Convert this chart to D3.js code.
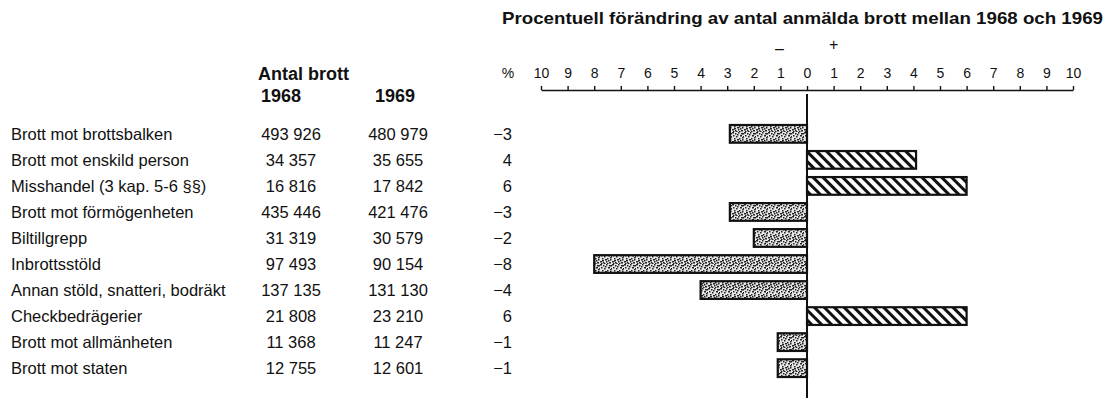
<!DOCTYPE html>
<html>
<head>
<meta charset="utf-8">
<script src="https://cdn.jsdelivr.net/npm/d3@7"></script>
<style>
  body { margin: 0; background: #fff; }
  text { font-family: "Liberation Sans", Arial, sans-serif; fill: #111; }
</style>
</head>
<body>
<div id="chart"></div>
<script>
// Crime categories and counts
var categories = [
    "Brott mot brottsbalken",
    "Brott mot enskild person",
    "Misshandel (3 kap. 5-6 §§)",
    "Brott mot förmögenheten",
    "Biltillgrepp",
    "Inbrottsstöld",
    "Annan stöld, snatteri, bodräkt",
    "Checkbedrägerier",
    "Brott mot allmänheten",
    "Brott mot staten"
];
var count1968 = ["493 926", "34 357", "16 816", "435 446", "31 319", "97 493", "137 135", "21 808", "11 368", "12 755"];
var count1969 = ["480 979", "35 655", "17 842", "421 476", "30 579", "90 154", "131 130", "23 210", "11 247", "12 601"];
// percent change as printed, and bar lengths as drawn
var pctLabels = [-3, 4, 6, -3, -2, -8, -4, 6, -1, -1];
var barValues = [-2.9, 4.1, 6, -2.9, -2, -8, -4, 6, -1.1, -1.1];
var tickValues = d3.range(-10, 11);

var width = 1110, height = 401;

var svg = d3.select("#chart")
    .append("svg")
    .attr("width", width)
    .attr("height", height);

// patterns for bars
var defs = svg.append("defs");
var hatch = defs.append("pattern")
    .attr("id", "hatch")
    .attr("patternUnits", "userSpaceOnUse")
    .attr("width", 7).attr("height", 7)
    .attr("patternTransform", "rotate(-45)");
hatch.append("rect").attr("width", 7).attr("height", 7).attr("fill", "#fff");
hatch.append("rect").attr("width", 3).attr("height", 7).attr("fill", "#111");

// stipple texture (fixed dot layout)
var stipple = defs.append("pattern")
    .attr("id", "stipple")
    .attr("patternUnits", "userSpaceOnUse")
    .attr("width", 12).attr("height", 12);
stipple.append("rect").attr("width", 12).attr("height", 12).attr("fill", "#e6e6e6");
var dots = [[0,0],[3,1],[6,0],[9,1],[1,3],[4,4],[8,3],[11,4],[2,6],[5,7],[7,6],[10,7],
            [0,9],[3,10],[6,9],[9,10],[1,11],[7,11],[11,1],[5,2],[10,5],[2,8],[8,8],[4,11]];
dots.forEach(function (d, i) {
    stipple.append("rect").attr("x", d[0]).attr("y", d[1])
        .attr("width", i % 3 == 0 ? 2 : 1.5).attr("height", 1.5).attr("fill", "#222");
});

// scales
var x = d3.scaleLinear().domain([-10, 10]).range([541, 1073]);
var y = d3.scaleBand().domain(categories).range([125, 377]).paddingInner(0.32);

// title
svg.append("text")
    .attr("x", 502).attr("y", 24)
    .attr("textLength", 601).attr("lengthAdjust", "spacingAndGlyphs")
    .style("font-family", "'Liberation Sans Narrow', 'Liberation Sans', Arial, sans-serif")
    .style("font-weight", "bold").style("font-size", "17px")
    .text("Procentuell förändring av antal anmälda brott mellan 1968 och 1969");

// minus / plus
svg.append("text").attr("x", x(-1) - 1).attr("y", 54).attr("text-anchor", "middle")
    .style("font-size", "16px").text("–");
svg.append("text").attr("x", x(1)).attr("y", 50).attr("text-anchor", "middle")
    .style("font-size", "16px").text("+");

// axis
var axis = svg.append("g")
    .attr("transform", "translate(0,90)")
    .call(d3.axisTop(x).tickValues(tickValues).tickSize(4).tickSizeOuter(0)
        .tickPadding(8)
        .tickFormat(function (d) { return Math.abs(d); }));
axis.select(".domain").attr("stroke", "#111").attr("stroke-width", 1.4);
axis.selectAll(".tick line").attr("stroke", "#111").attr("stroke-width", 1.4);
axis.selectAll(".tick text")
    .style("font-family", "'Liberation Sans', Arial, sans-serif")
    .style("font-size", "14px").attr("fill", "#111");

svg.append("text").attr("x", 508).attr("y", 78).attr("text-anchor", "middle")
    .style("font-size", "14px").text("%");

// column headers
svg.append("text").attr("x", 258).attr("y", 80)
    .style("font-weight", "bold").style("font-size", "18px").text("Antal brott");
svg.append("text").attr("x", 261).attr("y", 102)
    .style("font-weight", "bold").style("font-size", "18px").text("1968");
svg.append("text").attr("x", 375).attr("y", 102)
    .style("font-weight", "bold").style("font-size", "18px").text("1969");

// table rows
var rows = svg.selectAll(".row")
    .data(categories)
    .enter()
    .append("g")
    .attr("class", "row")
    .attr("transform", function (d) { return "translate(0," + (y(d) + y.bandwidth() / 2 + 6) + ")"; });

rows.append("text").attr("x", 11).style("font-size", "16.5px")
    .text(function (d) { return d; });
rows.append("text").attr("x", 291).attr("text-anchor", "middle").style("font-size", "16.5px")
    .text(function (d, i) { return count1968[i]; });
rows.append("text").attr("x", 398).attr("text-anchor", "middle").style("font-size", "16.5px")
    .text(function (d, i) { return count1969[i]; });
rows.append("text").attr("x", 512).attr("text-anchor", "end").style("font-size", "16.5px")
    .text(function (d, i) { return pctLabels[i] < 0 ? "\u2212" + Math.abs(pctLabels[i]) : pctLabels[i]; });

// bars
svg.selectAll(".bar")
    .data(categories)
    .enter()
    .append("rect")
    .attr("class", "bar")
    .attr("x", function (d, i) { return Math.min(x(0), x(barValues[i])); })
    .attr("y", function (d) { return y(d); })
    .attr("width", function (d, i) { return Math.abs(x(barValues[i]) - x(0)); })
    .attr("height", y.bandwidth())
    .attr("fill", function (d, i) { return barValues[i] < 0 ? "url(#stipple)" : "url(#hatch)"; })
    .attr("stroke", "#111")
    .attr("stroke-width", 2.2);

// zero line
svg.append("line")
    .attr("x1", x(0)).attr("x2", x(0))
    .attr("y1", 94).attr("y2", 398)
    .attr("stroke", "#111").attr("stroke-width", 2);
</script>
</body>
</html>
